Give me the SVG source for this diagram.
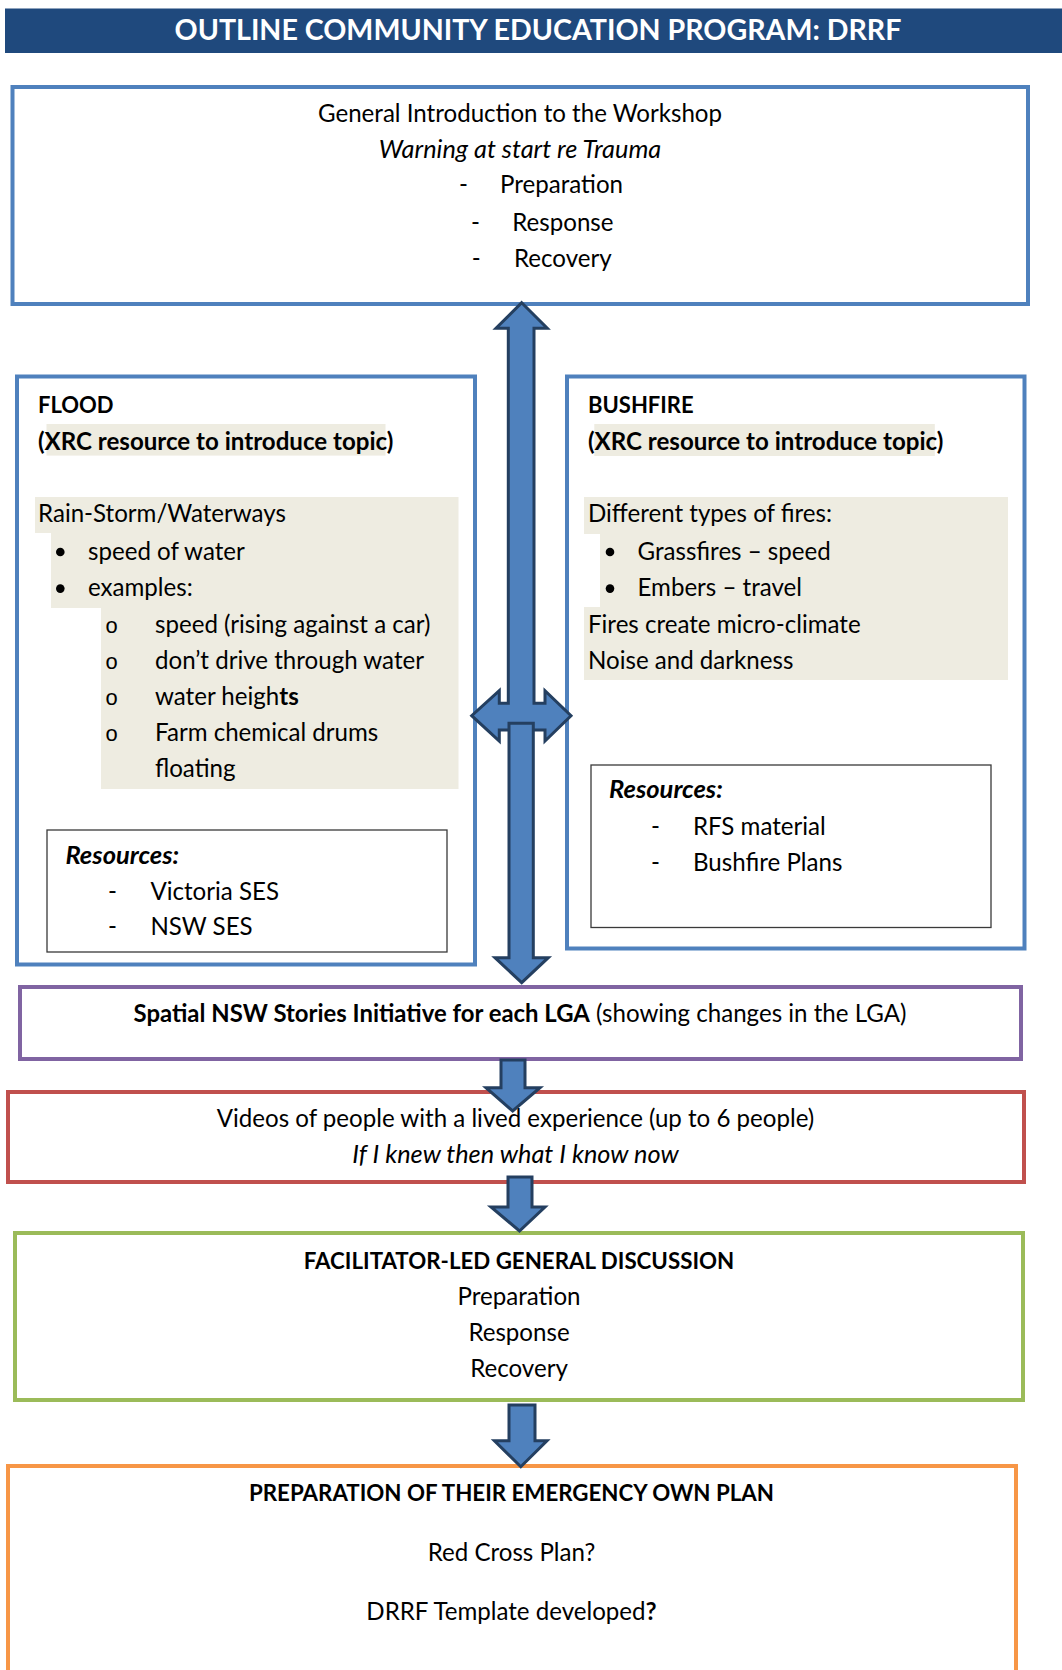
<svg xmlns="http://www.w3.org/2000/svg" width="1062" height="1670" viewBox="0 0 1062 1670">
<style>
text{font-family:Lato,"Liberation Sans",sans-serif;font-size:24.1px;fill:#000}
.b{font-weight:bold}
.i{font-style:italic;font-size:25.3px}
.bi{font-weight:bold;font-style:italic;font-size:25.5px}
.cap{font-weight:bold;font-size:22.3px}
.m{text-anchor:middle}
.box{fill:#fff;stroke-width:4}
.blue{stroke:#4F81BD}
.res{fill:#fff;stroke:#3a3a3a;stroke-width:1.3}
.hl{fill:#EEECE1}
.arrow{fill:#4F81BD;stroke:#243F60;stroke-width:3;stroke-linejoin:miter}
.sub{font-family:"Liberation Mono",monospace;font-size:22px}
</style>
<rect width="1062" height="1670" fill="#fff"/>

<g id="title">
<rect x="5" y="8.5" width="1057" height="44.5" fill="#1F497D"/>
<text x="538" y="39.5" class="b m" style="font-size:28.6px;fill:#fff">OUTLINE COMMUNITY EDUCATION PROGRAM: DRRF</text>
</g>

<g id="intro">
<rect x="12.5" y="87" width="1015.5" height="217" class="box blue"/>
<text x="520" y="121.7" class="m">General Introduction to the Workshop</text>
<text x="520" y="157.7" class="m i">Warning at start re Trauma</text>
<text x="459" y="193.3">-</text><text x="500" y="193.3">Preparation</text>
<text x="471" y="230.5">-</text><text x="512.3" y="230.5">Response</text>
<text x="471.7" y="267">-</text><text x="514" y="267">Recovery</text>
</g>

<g id="flood">
<rect x="17" y="376.5" width="458" height="588" class="box blue"/>
<text x="38" y="413" class="cap" style="font-size:22px">FLOOD</text>
<rect x="46.5" y="424" width="339" height="31.6" class="hl"/>
<text x="38" y="450" class="b">(XRC resource to introduce topic)</text>
<polygon points="35,497 458.5,497 458.5,789 101,789 101,608 51,608 51,533 35,533" class="hl"/>
<text x="38" y="522">Rain-Storm/Waterways</text>
<circle cx="60.3" cy="552" r="4.3"/>
<text x="88" y="559.6">speed of water</text>
<circle cx="60.3" cy="588.6" r="4.3"/>
<text x="88" y="596.4">examples:</text>
<text x="105" y="632.7" class="sub">o</text><text x="155" y="632.7">speed (rising against a car)</text>
<text x="105" y="668.5" class="sub">o</text><text x="155" y="668.5">don’t drive through water</text>
<text x="105" y="704.7" class="sub">o</text><text x="155" y="704.7">water heigh<tspan class="b">ts</tspan></text>
<text x="105" y="741.4" class="sub">o</text><text x="155" y="741.4">Farm chemical drums</text>
<text x="155" y="777">floating</text>
<rect x="47" y="830" width="400" height="122" class="res"/>
<text x="65.4" y="864" class="bi">Resources:</text>
<text x="108" y="899.5">-</text><text x="150.4" y="899.5">Victoria SES</text>
<text x="108" y="935">-</text><text x="150.4" y="935">NSW SES</text>
</g>

<g id="bushfire">
<rect x="567" y="376.5" width="457.5" height="572" class="box blue"/>
<text x="588" y="413" class="cap" style="font-size:22px">BUSHFIRE</text>
<rect x="594.3" y="424" width="340.5" height="32" class="hl"/>
<text x="588" y="450" class="b">(XRC resource to introduce topic)</text>
<polygon points="584,497 1008,497 1008,680 584,680 584,607 600,607 600,534 584,534" class="hl"/>
<text x="588" y="522">Different types of fires:</text>
<circle cx="610" cy="552" r="4.3"/>
<text x="637.5" y="559.7">Grassfires – speed</text>
<circle cx="610" cy="588.6" r="4.3"/>
<text x="637.5" y="596">Embers – travel</text>
<text x="588" y="632.8">Fires create micro-climate</text>
<text x="588" y="669">Noise and darkness</text>
<rect x="591" y="765" width="400" height="162.5" class="res"/>
<text x="609" y="798" class="bi">Resources:</text>
<text x="651" y="834.5">-</text><text x="693" y="834.5">RFS material</text>
<text x="651" y="871">-</text><text x="693" y="871">Bushfire Plans</text>
</g>

<g id="spatial">
<rect x="20" y="987" width="1001" height="72" class="box" style="stroke:#8064A2"/>
<text x="520" y="1022.3" class="m"><tspan class="b" style="font-size:23.9px">Spatial NSW Stories Initiative for each LGA</tspan> (showing changes in the LGA)</text>
</g>

<g id="videos">
<rect x="8" y="1092" width="1016" height="90" class="box" style="stroke:#C0504D"/>
<text x="515.5" y="1126.7" class="m">Videos of people with a lived experience (up to 6 people)</text>
<text x="515.5" y="1163" class="m i">If I knew then what I know now</text>
</g>

<g id="discussion">
<rect x="15" y="1233" width="1008" height="167" class="box" style="stroke:#9BBB59"/>
<text x="519" y="1269.3" class="m cap">FACILITATOR-LED GENERAL DISCUSSION</text>
<text x="519" y="1305" class="m">Preparation</text>
<text x="519" y="1341" class="m">Response</text>
<text x="519" y="1376.7" class="m">Recovery</text>
</g>

<g id="plan">
<rect x="8" y="1466" width="1008" height="300" class="box" style="stroke:#F79646"/>
<text x="511.5" y="1501" class="m cap">PREPARATION OF THEIR EMERGENCY OWN PLAN</text>
<text x="511.5" y="1561" class="m">Red Cross Plan?</text>
<text x="511.5" y="1620" class="m">DRRF Template developed<tspan class="b">?</tspan></text>
</g>

<g id="connectors">
<path class="arrow" d="M521.7,302.7 L547.3,328.3 L534,328.3 L534,703.3 L545,703.3 L545,690.7 L571,715.7 L545,741 L545,730 L499.3,730 L499.3,741 L471.7,715.7 L499.3,690.7 L499.3,703.3 L508.3,703.3 L508.3,328.3 L496,328.3 Z"/>
<path class="arrow" d="M509,723.3 L533.3,723.3 L533.3,957.7 L548.3,957.7 L521.7,982.7 L495,957.7 L509,957.7 Z"/>
<path class="arrow" d="M501,1060 L525,1060 L525,1087.7 L540,1087.7 L512.7,1111 L486,1087.7 L501,1087.7 Z"/>
<path class="arrow" d="M508,1177 L532,1177 L532,1207 L545,1207 L519.5,1231 L491,1207 L508,1207 Z"/>
<path class="arrow" d="M509,1405 L535,1405 L535,1440.7 L547,1440.7 L520.8,1466.7 L494.4,1440.7 L509,1440.7 Z"/>
</g>
</svg>
